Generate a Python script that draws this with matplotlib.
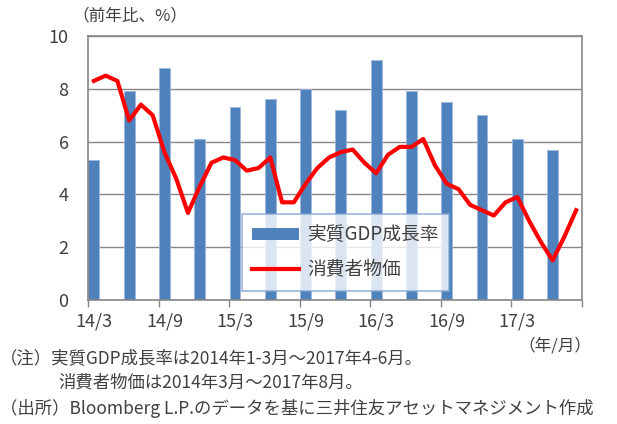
import matplotlib
matplotlib.use('Agg')
import matplotlib.pyplot as plt
import numpy as np
from matplotlib.patches import Patch
from matplotlib.lines import Line2D

plt.rcParams['font.family'] = ['Noto Sans CJK JP', 'DejaVu Sans']

# 月次（2014/3～2017/8）
months = ['14/3', '14/4', '14/5', '14/6', '14/7', '14/8', '14/9', '14/10', '14/11', '14/12',
          '15/1', '15/2', '15/3', '15/4', '15/5', '15/6', '15/7', '15/8', '15/9', '15/10',
          '15/11', '15/12', '16/1', '16/2', '16/3', '16/4', '16/5', '16/6', '16/7', '16/8',
          '16/9', '16/10', '16/11', '16/12', '17/1', '17/2', '17/3', '17/4', '17/5', '17/6',
          '17/7', '17/8']
# 消費者物価（前年比、%）
cpi = [8.3, 8.5, 8.3, 6.8, 7.4, 7.0, 5.6, 4.6, 3.3, 4.3,
       5.2, 5.4, 5.3, 4.9, 5.0, 5.4, 3.7, 3.7, 4.4, 5.0,
       5.4, 5.6, 5.7, 5.2, 4.8, 5.5, 5.8, 5.8, 6.1, 5.1,
       4.4, 4.2, 3.6, 3.4, 3.2, 3.7, 3.9, 3.0, 2.2, 1.5,
       2.4, 3.4]
# 実質GDP成長率（四半期、各四半期末月に表示）
gdp_months = ['14/3', '14/6', '14/9', '14/12', '15/3', '15/6', '15/9', '15/12',
              '16/3', '16/6', '16/9', '16/12', '17/3', '17/6']
gdp = [5.3, 7.9, 8.8, 6.1, 7.3, 7.6, 8.0, 7.2, 9.1, 7.9, 7.5, 7.0, 6.1, 5.7]

tick_labels = ['14/3', '14/9', '15/3', '15/9', '16/3', '16/9', '17/3']

blue = '#4F81BD'
red = '#FF0000'
gray = '#868686'
txt = '#404040'

fig = plt.figure(figsize=(6.17, 4.24), dpi=100)
ax = fig.add_axes([0.1426, 0.2925, 0.8007, 0.6225])

x = np.arange(len(months))
gx = [months.index(m) for m in gdp_months]

ax.bar(gx, gdp, width=0.92, color=blue, edgecolor='#9DB9DC', linewidth=0.6, zorder=2)
ax.plot(x, cpi, color=red, linewidth=3.0, solid_joinstyle='round', zorder=3)

ax.set_xlim(-0.5, len(months) - 0.5)
ax.set_ylim(0, 10)
ax.set_yticks([0, 2, 4, 6, 8, 10])
ax.yaxis.grid(True, color=gray, linewidth=1.0, zorder=0)
ax.set_axisbelow(True)

tpos = [months.index(t) for t in tick_labels]
ax.set_xticks(tpos)
ax.set_xticklabels(tick_labels)
ax.set_xticks(np.arange(-0.5, len(months), 6), minor=True)
ax.tick_params(axis='x', which='major', length=0, pad=9, labelsize=13, labelcolor=txt)
ax.tick_params(axis='x', which='minor', length=5, color=gray, width=1)
ax.tick_params(axis='y', length=0, pad=14, labelsize=13, labelcolor=txt)

for s in ax.spines.values():
    s.set_color(gray)
    s.set_linewidth(1.2)

handles = [Patch(facecolor=blue, edgecolor='none'),
           Line2D([0], [0], color=red, linewidth=3.0)]
leg = ax.legend(handles, ['実質GDP成長率', '消費者物価'], loc='upper left',
                bbox_to_anchor=(0.312, 0.326), borderaxespad=0, fontsize=13.5, frameon=True,
                fancybox=False, handlelength=2.5, handleheight=0.6,
                labelspacing=0.75, borderpad=0.55, handletextpad=0.4)
leg.get_frame().set_edgecolor('#7EA6D3')
leg.get_frame().set_linewidth(1.2)
for t in leg.get_texts():
    t.set_color(txt)

fig.text(0.118, 0.962, '（前年比、%）', fontsize=12, color=txt, ha='left', va='center')
fig.text(0.958, 0.185, '（年/月）', fontsize=12, color=txt, ha='right', va='center')

fig.text(0.0, 0.155, '（注）実質GDP成長率は2014年1-3月～2017年4-6月。', fontsize=12.5, color=txt,
         ha='left', va='center')
fig.text(0.094, 0.097, '消費者物価は2014年3月～2017年8月。', fontsize=12.5, color=txt,
         ha='left', va='center')
fig.text(0.0, 0.037, '（出所）Bloomberg L.P.のデータを基に三井住友アセットマネジメント作成',
         fontsize=12.5, color=txt, ha='left', va='center')

fig.savefig('out.png', dpi=100)
